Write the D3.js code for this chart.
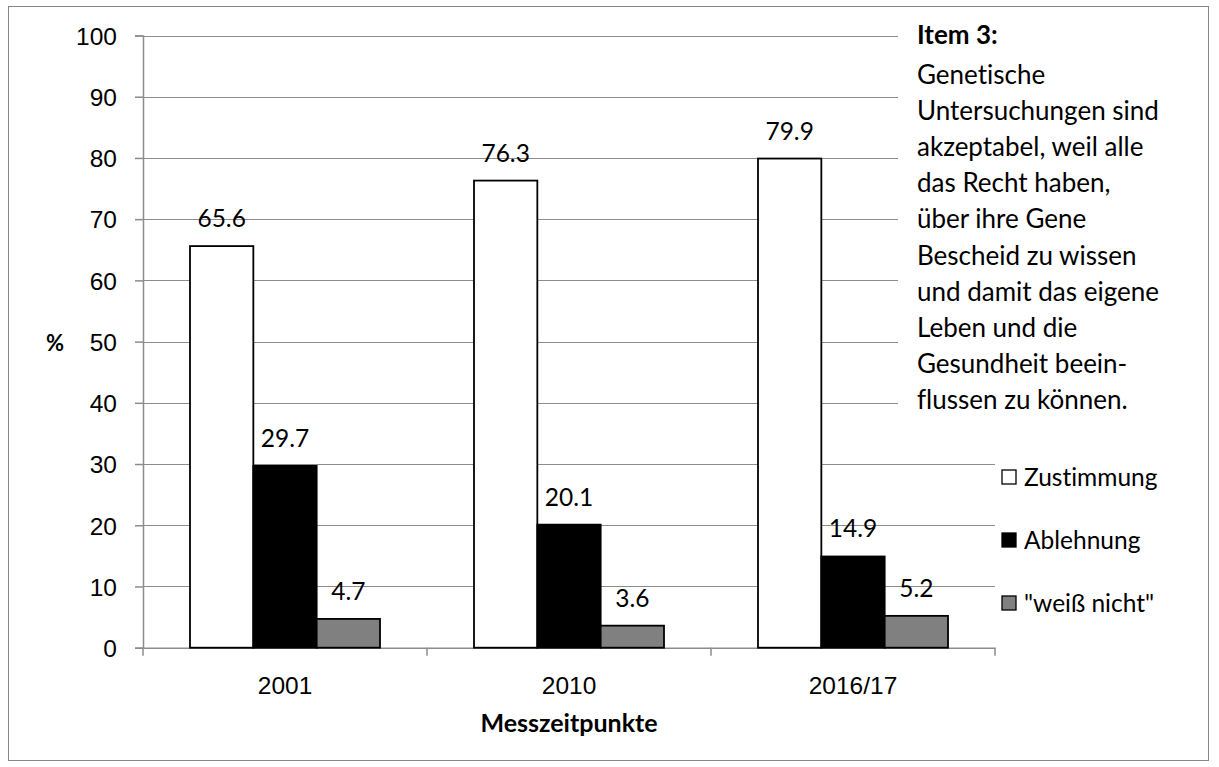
<!DOCTYPE html>
<html>
<head>
<meta charset="utf-8">
<script src="https://cdn.jsdelivr.net/npm/d3@7"></script>
<style>
  html, body { margin: 0; padding: 0; background: #fff; }
  svg { display: block; font-family: Lato, "Open Sans", "Noto Sans", sans-serif;
        font-variant-ligatures: none; font-feature-settings: "liga" 0, "clig" 0; }
</style>
</head>
<body>
<svg id="chart" width="1219" height="767"></svg>
<script>
// Measurement points and answer shares (%)
const categories = ["2001", "2010", "2016/17"];
const seriesNames = ["Zustimmung", "Ablehnung", "\"weiß nicht\""];
const zustimmung = [65.6, 76.3, 79.9];
const ablehnung = [29.7, 20.1, 14.9];
const weissNicht = [4.7, 3.6, 5.2];
const yTicks = [0, 10, 20, 30, 40, 50, 60, 70, 80, 90, 100];
const itemTitle = "Item 3:";
const itemLines = [
  "Genetische",
  "Untersuchungen sind",
  "akzeptabel, weil alle",
  "das Recht haben,",
  "über ihre Gene",
  "Bescheid zu wissen",
  "und damit das eigene",
  "Leben und die",
  "Gesundheit beein-",
  "flussen zu können."
];

const seriesValues = [zustimmung, ablehnung, weissNicht];
const fills = ["#ffffff", "#000000", "#808080"];
const FS = 24.5;

const svg = d3.select("#chart");

// Outer frame
svg.append("rect")
  .attr("x", 8.5).attr("y", 6.5)
  .attr("width", 1200).attr("height", 754)
  .attr("fill", "#fff").attr("stroke", "#868686").attr("stroke-width", 1);

const plot = { left: 143, right: 995, top: 35.5, bottom: 647.7 };

const x = d3.scaleBand().domain(categories).range([plot.left, plot.right]).padding(0);
const groupPad = 47;
const xs = d3.scaleBand().domain(d3.range(seriesNames.length))
  .range([groupPad, x.bandwidth() - groupPad]).padding(0);
const y = d3.scaleLinear().domain([0, 100]).range([plot.bottom, plot.top]);

// Horizontal gridlines
svg.append("g").selectAll("line").data(yTicks.filter(d => d > 0)).join("line")
  .attr("x1", plot.left).attr("x2", plot.right)
  .attr("y1", d => Math.round(y(d)) + 0.5).attr("y2", d => Math.round(y(d)) + 0.5)
  .attr("stroke", "#8c8c8c").attr("stroke-width", 1.2);

// Y axis
const yAxis = d3.axisLeft(y).tickValues(yTicks).tickSize(8).tickPadding(18);
const gy = svg.append("g").attr("transform", `translate(${plot.left},0)`).call(yAxis);
gy.select(".domain").attr("stroke", "#8c8c8c").attr("stroke-width", 1.5);
gy.selectAll(".tick line").attr("stroke", "#8c8c8c").attr("stroke-width", 1.5);
gy.selectAll(".tick text").attr("font-size", FS).attr("font-family", null)
  .attr("fill", "#000").attr("dy", "0.36em");

// X axis
const xAxis = d3.axisBottom(x).tickSize(0).tickPadding(29);
const gx = svg.append("g").attr("transform", `translate(0,${plot.bottom})`).call(xAxis);
gx.select(".domain").attr("stroke", "#8c8c8c").attr("stroke-width", 1.5);
gx.selectAll(".tick text").attr("font-size", FS).attr("font-family", null).attr("fill", "#000");
// category boundary ticks
const bounds = categories.map(c => x(c)).concat([x(categories[categories.length - 1]) + x.bandwidth()]);
gx.selectAll(".bound").data(bounds).join("line").attr("class", "bound")
  .attr("x1", d => d).attr("x2", d => d).attr("y1", 0).attr("y2", 8)
  .attr("stroke", "#8c8c8c").attr("stroke-width", 1.5);

// Bars with value labels
const groups = svg.append("g").selectAll("g").data(categories).join("g")
  .attr("transform", d => `translate(${x(d)},0)`);

groups.each(function(cat, ci) {
  const g = d3.select(this);
  seriesValues.forEach((vals, si) => {
    const v = vals[ci];
    g.append("rect")
      .attr("x", xs(si)).attr("width", xs.bandwidth())
      .attr("y", y(v)).attr("height", y(0) - y(v))
      .attr("fill", fills[si]).attr("stroke", "#000").attr("stroke-width", 1.8);
    g.append("text")
      .attr("x", xs(si) + xs.bandwidth() / 2)
      .attr("y", y(v) - 19)
      .attr("text-anchor", "middle")
      .attr("font-size", FS).attr("fill", "#000")
      .text(v.toFixed(1));
  });
});

// Axis titles
svg.append("text").attr("x", 55).attr("y", 351).attr("text-anchor", "middle")
  .attr("font-size", 22).attr("font-weight", "bold").text("%");
svg.append("text").attr("x", (plot.left + plot.right) / 2).attr("y", 732).attr("text-anchor", "middle")
  .attr("font-size", 25).attr("font-weight", "bold").text("Messzeitpunkte");

// Item text box (white background over the gridlines)
svg.append("rect").attr("x", 898).attr("y", 18).attr("width", 300).attr("height", 405).attr("fill", "#fff");
const tb = svg.append("text").attr("x", 917).attr("font-size", 26).attr("fill", "#000");
tb.append("tspan").attr("x", 917).attr("y", 44).attr("font-weight", "bold").text(itemTitle);
itemLines.forEach((line, i) => {
  tb.append("tspan").attr("x", 917).attr("y", 84 + i * 36.1).text(line);
});

// Legend
const legend = svg.append("g").selectAll("g").data(seriesNames).join("g")
  .attr("transform", (d, i) => `translate(1002,${477 + i * 63})`);
legend.append("rect").attr("x", 0).attr("y", -7).attr("width", 14).attr("height", 14)
  .attr("fill", (d, i) => fills[i]).attr("stroke", "#000").attr("stroke-width", 1.3);
legend.append("text").attr("x", 22).attr("y", 0).attr("dy", "0.36em")
  .attr("font-size", FS).attr("fill", "#000").text(d => d);
</script>
</body>
</html>
